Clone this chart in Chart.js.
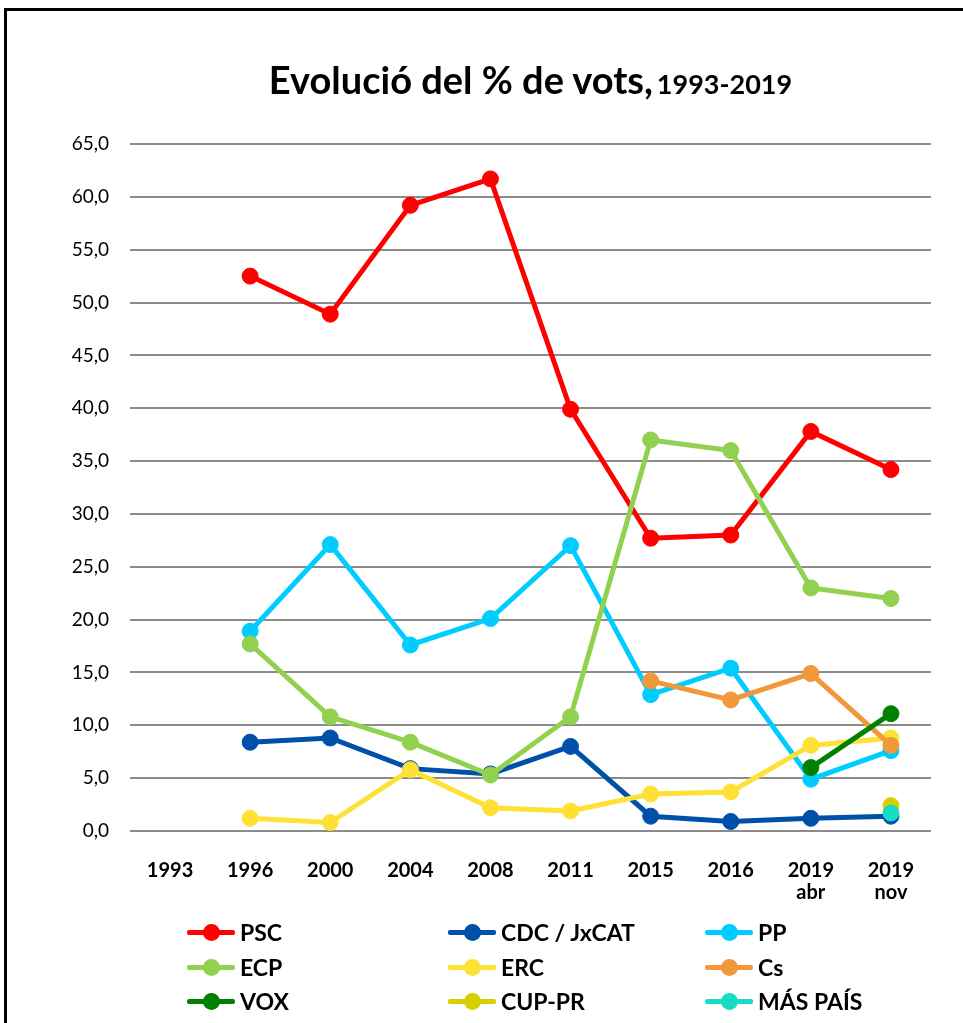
<!DOCTYPE html>
<html>
<head>
<meta charset="utf-8">
<script src="https://cdn.jsdelivr.net/npm/chart.js@4"></script>
<style>
    html, body { margin: 0; padding: 0; background: #fff; overflow: hidden; }
    body { width: 963px; height: 1023px; position: relative; font-family: Lato, "Open Sans", sans-serif; }
    #frame { position: absolute; left: 4px; top: 8px; width: 1000px; height: 1100px; border: 3px solid #000; }
    #wrap { position: absolute; left: 0; top: 0; width: 963px; height: 1023px; }
    #title { position: absolute; left: 130px; top: 56px; width: 801px; text-align: center; font-weight: bold; color: #000; white-space: nowrap; }
    #title .big { font-size: 38px; }
    #title .small { font-size: 27px; }
    .lg { position: absolute; display: flex; align-items: center; height: 30px; font-weight: bold; font-size: 23px; color: #000; white-space: nowrap; }
    .mk { position: relative; display: inline-block; width: 48px; height: 5px; border-radius: 2px; margin-right: 5px; }
    .mk .dot { position: absolute; left: 16px; top: -6px; width: 17px; height: 17px; border-radius: 50%; }
</style>
</head>
<body>
<div id="frame"></div>
<div id="wrap"><canvas id="chart"></canvas></div>
<div id="title"><span class="big">Evolució del % de vots,</span> <span class="small">1993-2019</span></div>
<div id="legend"></div>
<script>
// categories (multi-line labels as arrays)
const years = ['1993', '1996', '2000', '2004', '2008', '2011', '2015', '2016', ['2019', 'abr'], ['2019', 'nov']];

// % de vots per partit
const psc      = [null, 52.5, 48.9, 59.2, 61.7, 39.9, 27.7, 28.0, 37.8, 34.2];
const cdc      = [null, 8.4, 8.8, 5.9, 5.4, 8.0, 1.4, 0.9, 1.2, 1.4];
const pp       = [null, 18.9, 27.1, 17.6, 20.1, 27.0, 12.9, 15.4, 4.9, 7.6];
const ecp      = [null, 17.7, 10.8, 8.4, 5.3, 10.8, 37.0, 36.0, 23.0, 22.0];
const erc      = [null, 1.2, 0.8, 5.8, 2.2, 1.9, 3.5, 3.7, 8.1, 8.8];
const cs       = [null, null, null, null, null, null, 14.2, 12.4, 14.9, 8.1];
const vox      = [null, null, null, null, null, null, null, null, 6.0, 11.1];
const cupPr    = [null, null, null, null, null, null, null, null, null, 2.4];
const masPais  = [null, null, null, null, null, null, null, null, null, 1.7];

const seriesNames  = ['PSC', 'CDC / JxCAT', 'PP', 'ECP', 'ERC', 'Cs', 'VOX', 'CUP-PR', 'MÁS PAÍS'];
const seriesValues = [psc, cdc, pp, ecp, erc, cs, vox, cupPr, masPais];
const seriesColors = ['#ff0000', '#0050aa', '#00cdff', '#92d050', '#ffe135', '#f0983a', '#008000', '#d6d000', '#16dcc4'];

const yTicksMin = 0;
const yTicksMax = 65;
const yTickStep = 5;

const datasets = seriesNames.map((name, i) => ({
    label: name,
    data: seriesValues[i],
    borderColor: seriesColors[i],
    backgroundColor: seriesColors[i],
    pointBackgroundColor: seriesColors[i],
    pointBorderColor: seriesColors[i],
    borderWidth: 5,
    pointRadius: 8,
    pointBorderWidth: 1,
    tension: 0,
    spanGaps: false,
    // later series drawn on top, as in the original
    order: seriesNames.length - i
}));

new Chart(document.getElementById('chart'), {
    type: 'line',
    data: { labels: years, datasets: datasets },
    options: {
        responsive: true,
        maintainAspectRatio: false,
        animation: false,
        layout: { padding: { left: 0, right: 32, top: 144, bottom: 0 } },
        plugins: {
            legend: { display: false },
            title: { display: false },
            tooltip: { enabled: false }
        },
        scales: {
            x: {
                offset: true,
                grid: { display: false },
                border: { display: false },
                ticks: {
                    color: '#000',
                    padding: 20,
                    maxRotation: 0,
                    autoSkip: false,
                    font: { family: 'Lato', size: 20, weight: 'bold', lineHeight: 1.12 }
                },
                afterFit: function (scale) { scale.height = 192; }
            },
            y: {
                min: yTicksMin,
                max: yTicksMax,
                grid: { color: '#8c8c8c', lineWidth: 2, drawTicks: false },
                border: { display: false },
                ticks: {
                    stepSize: yTickStep,
                    color: '#000',
                    padding: 21,
                    font: { family: 'Lato', size: 19 },
                    callback: function (value) {
                        return value.toFixed(1).replace('.', ',');
                    }
                },
                afterFit: function (scale) { scale.width = 130; }
            }
        }
    }
});

// HTML legend, 3 columns like the original
const legendCols = [187, 448, 705];
const legendRows = [932, 967, 1001];
const legend = document.getElementById('legend');
seriesNames.forEach((name, i) => {
    const item = document.createElement('div');
    item.className = 'lg';
    item.style.left = legendCols[i % 3] + 'px';
    item.style.top = (legendRows[Math.floor(i / 3)] - 15) + 'px';
    const mk = document.createElement('span');
    mk.className = 'mk';
    mk.style.background = seriesColors[i];
    const dot = document.createElement('span');
    dot.className = 'dot';
    dot.style.background = seriesColors[i];
    mk.appendChild(dot);
    item.appendChild(mk);
    item.appendChild(document.createTextNode(name));
    legend.appendChild(item);
});
</script>
</body>
</html>
